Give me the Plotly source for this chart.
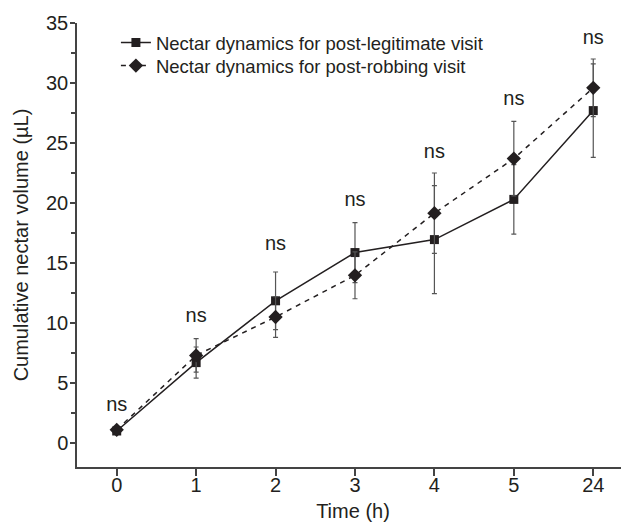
import plotly.graph_objects as go

time_labels = ["0", "1", "2", "3", "4", "5", "24"]
legit_mean = [1.0, 6.7, 11.85, 15.87, 16.95, 20.3, 27.7]
legit_err = [0.2, 1.3, 2.4, 2.5, 4.5, 2.9, 3.9]
rob_mean = [1.1, 7.3, 10.5, 13.97, 19.15, 23.7, 29.6]
rob_err = [0.2, 1.4, 1.7, 1.95, 3.35, 3.1, 2.4]
ns_y = [3.1, 10.5, 16.5, 20.2, 24.2, 28.6, 33.7]
ns_text = ["ns"] * 7

FONT = "Liberation Sans, Arial, sans-serif"
INK = "#231f20"

fig = go.Figure()
fig.add_trace(go.Scatter(
    x=time_labels, y=legit_mean, mode="lines+markers",
    name="Nectar dynamics for post-legitimate visit", legend="legend",
    line=dict(color=INK, width=1.5),
    marker=dict(symbol="square", size=9, color=INK),
    error_y=dict(type="data", array=legit_err, visible=True, color="#555", thickness=1.2, width=2.5),
))
fig.add_trace(go.Scatter(
    x=time_labels, y=rob_mean, mode="lines+markers",
    name="Nectar dynamics for post-robbing visit", legend="legend2",
    line=dict(color=INK, width=1.5, dash="5px,5px"),
    marker=dict(symbol="diamond", size=11, color=INK),
    error_y=dict(type="data", array=rob_err, visible=True, color="#555", thickness=1.2, width=2.5),
))
fig.add_trace(go.Scatter(
    x=time_labels, y=ns_y, mode="text", text=ns_text, showlegend=False,
    textfont=dict(family=FONT, size=20, color=INK), hoverinfo="skip",
))

leg_common = dict(xanchor="left", yanchor="middle", bgcolor="rgba(0,0,0,0)",
                  font=dict(size=18.5), tracegroupgap=0)

fig.update_layout(
    width=621, height=516,
    margin=dict(l=69, r=0, t=15, b=57),
    paper_bgcolor="white", plot_bgcolor="white",
    font=dict(family=FONT, size=20, color=INK),
    showlegend=True,
    legend=dict(x=0.0705, y=0.955, **leg_common),
    legend2=dict(x=0.0705, y=0.903, **leg_common),
    xaxis=dict(
        type="category", range=[-0.5, 6.45], automargin=False,
        showline=True, linecolor="#444", linewidth=1.5,
        ticks="outside", ticklen=7, tickcolor="#444", tickwidth=1.5,
        ticklabelstandoff=-8,
        showgrid=False, zeroline=False,
        tickfont=dict(size=20),
        title=dict(text="Time (h)", font=dict(size=20), standoff=9),
    ),
    yaxis=dict(
        range=[-2, 35], dtick=5, tick0=0, automargin=False,
        showline=True, linecolor="#444", linewidth=1.5,
        ticks="outside", ticklen=5, tickcolor="#444", tickwidth=1.5,
        ticklabelstandoff=-2,
        minor=dict(ticks="outside", ticklen=4, dtick=2.5, tick0=0, tickcolor="#444", tickwidth=1.5, showgrid=False),
        showgrid=False, zeroline=False,
        tickfont=dict(size=20),
        title=dict(text="Cumulative nectar volume (µL)", font=dict(size=20), standoff=12),
    ),
)

fig.write_html("out.html")
